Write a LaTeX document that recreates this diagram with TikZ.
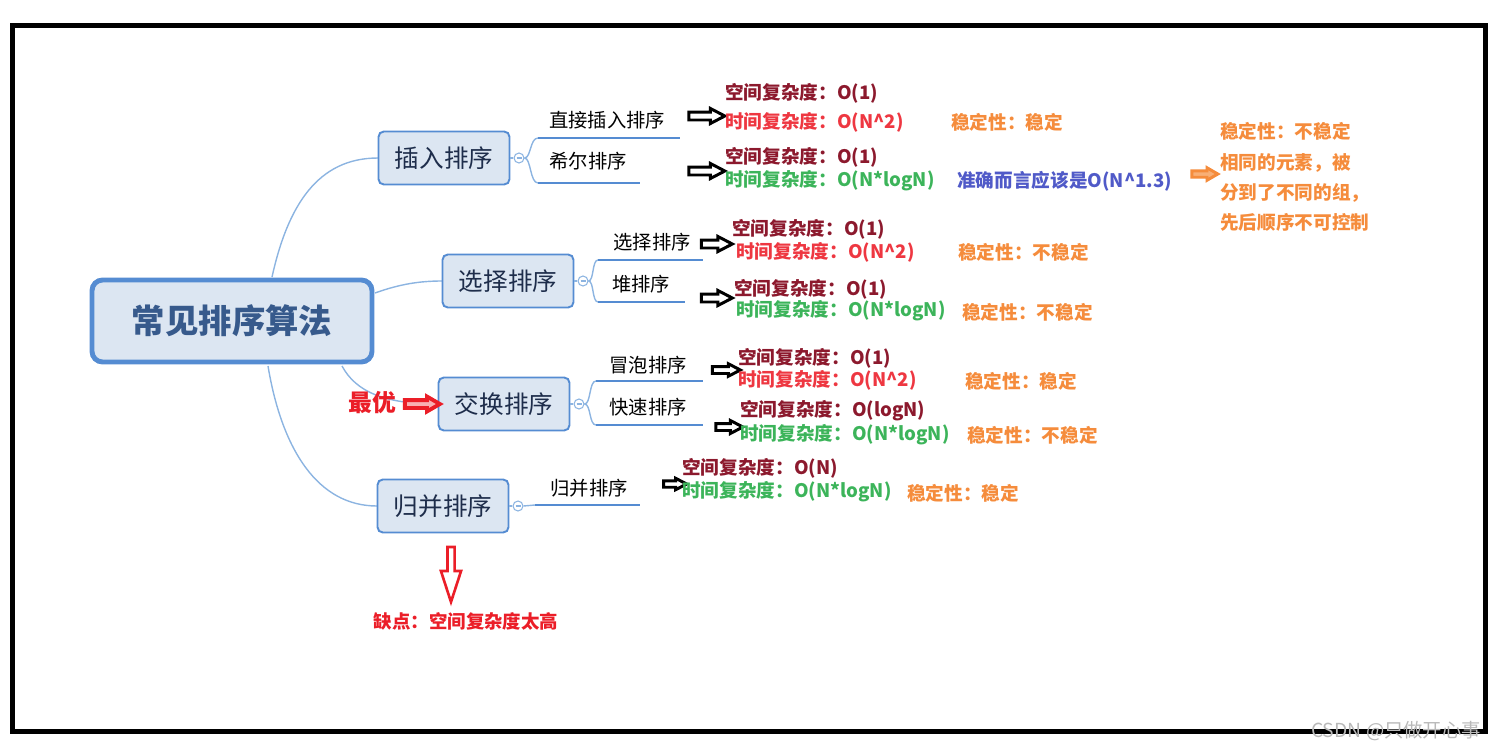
\documentclass[tikz,border=0pt]{standalone}
\usepackage{fontspec}
\setmainfont{Noto Sans CJK SC}
\usetikzlibrary{shapes.arrows}

\definecolor{boxline}{RGB}{85,140,210}
\definecolor{boxfill}{RGB}{220,230,242}
\definecolor{boxtext}{RGB}{30,45,75}
\definecolor{maintext}{RGB}{55,90,140}
\definecolor{branch}{RGB}{140,180,225}
\definecolor{spacered}{RGB}{140,25,45}
\definecolor{timered}{RGB}{238,55,65}
\definecolor{timegreen}{RGB}{60,180,90}
\definecolor{stableorange}{RGB}{245,140,60}
\definecolor{noteblue}{RGB}{80,90,200}
\definecolor{warnred}{RGB}{235,30,40}

\tikzset{
  mainbox/.style={draw=boxline, fill=boxfill, line width=2.8pt, rounded corners=6pt,
    minimum width=5.6cm, minimum height=1.64cm, text=maintext,
    font=\fontsize{19}{22}\selectfont\bfseries},
  catbox/.style={draw=boxline, fill=boxfill, line width=1.1pt, rounded corners=3pt,
    minimum width=2.62cm, minimum height=1.06cm, text=boxtext,
    font=\fontsize{14}{16}\selectfont},
  fold/.style={circle, draw=branch, fill=white, line width=0.6pt, minimum size=0.2cm, inner sep=0pt},
  subtxt/.style={inner sep=0pt, font=\fontsize{11}{13}\selectfont},
  info/.style={anchor=west, inner sep=0pt, font=\fontsize{10.6}{13}\selectfont\bfseries},
  branchline/.style={draw=branch, line width=0.8pt},
  subline/.style={draw=boxline, line width=1.6pt},
  hollow/.style={single arrow, draw=black, fill=white, line width=1.7pt, minimum height=0.72cm,
    inner xsep=0pt, inner ysep=0.05cm, single arrow head extend=0.07cm, single arrow tip angle=55},
}

\begin{document}
\begin{tikzpicture}[x=0.02cm, y=-0.02cm]
  \useasboundingbox (0,0) rectangle (1499,751);
  % outer frame
  \draw[line width=2.85pt] (12.5,25.5) rectangle (1485,731);

  % branches from the root
  \coordinate (rootup) at (272,277);
  \coordinate (rootright) at (375,293);
  \coordinate (rootdown) at (342,366);
  \coordinate (rootlow) at (268,366);
  \draw[branchline] (rootup) .. controls (288,205) and (318,158) .. (378,158);
  \draw[branchline] (rootright) .. controls (400,284) and (420,281) .. (442,281);
  \draw[branchline] (rootdown) .. controls (356,392) and (385,404) .. (438,404);
  \draw[branchline] (rootlow) .. controls (282,450) and (318,506) .. (377,506);

  % root and category boxes
  \node[mainbox] (root) at (232,321) {常见排序算法};
  \node[catbox] (insert) at (444,158) {插入排序};
  \node[catbox] (select) at (508,281) {选择排序};
  \node[catbox] (swap) at (504,404) {交换排序};
  \node[catbox] (merge) at (443,506) {归并排序};

  % fold circles
  \node[fold] (insertfold) at (519,158) {};
  \node[fold] (selectfold) at (583,281) {};
  \node[fold] (swapfold) at (579,404) {};
  \node[fold] (mergefold) at (518,506) {};
  \foreach \f in {insertfold,selectfold,swapfold,mergefold}
    \draw[branch, line width=0.6pt] ([xshift=-0.05cm]\f.center) -- ([xshift=0.05cm]\f.center);
  \draw[branchline] (insert.east) -- (insertfold.west);
  \draw[branchline] (select.east) -- (selectfold.west);
  \draw[branchline] (swap.east) -- (swapfold.west);
  \draw[branchline] (merge.east) -- (mergefold.west);

  % insertion sort children
  \coordinate (directL) at (538,138); \coordinate (directR) at (680,138);
  \coordinate (shellL) at (538,183); \coordinate (shellR) at (640,183);
  \draw[branchline] (insertfold.east) .. controls (531,158) and (530,138) .. (directL);
  \draw[branchline] (insertfold.east) .. controls (531,158) and (530,183) .. (shellL);
  \draw[subline] (directL) -- (directR);
  \draw[subline] (shellL) -- (shellR);
  \node[subtxt] (direct) at (607,120) {直接插入排序};
  \node[subtxt] (shell) at (588,161) {希尔排序};

  % selection sort children
  \coordinate (chooseL) at (598,260); \coordinate (chooseR) at (703,260);
  \coordinate (heapL) at (598,302); \coordinate (heapR) at (685,302);
  \draw[branchline] (selectfold.east) .. controls (594,281) and (592,260) .. (chooseL);
  \draw[branchline] (selectfold.east) .. controls (594,281) and (592,302) .. (heapL);
  \draw[subline] (chooseL) -- (chooseR);
  \draw[subline] (heapL) -- (heapR);
  \node[subtxt] (choose) at (652,242) {选择排序};
  \node[subtxt] (heap) at (641,284) {堆排序};

  % exchange sort children
  \coordinate (bubbleL) at (596,381); \coordinate (bubbleR) at (703,381);
  \coordinate (quickL) at (596,425); \coordinate (quickR) at (703,425);
  \draw[branchline] (swapfold.east) .. controls (591,404) and (589,381) .. (bubbleL);
  \draw[branchline] (swapfold.east) .. controls (591,404) and (589,425) .. (quickL);
  \draw[subline] (bubbleL) -- (bubbleR);
  \draw[subline] (quickL) -- (quickR);
  \node[subtxt] (bubble) at (648,365) {冒泡排序};
  \node[subtxt] (quick) at (648,407) {快速排序};

  % merge sort child
  \coordinate (mergesubL) at (535,505); \coordinate (mergesubR) at (640,505);
  \draw[branchline] (mergefold.east) -- (mergesubL);
  \draw[subline] (mergesubL) -- (mergesubR);
  \node[subtxt] (mergesub) at (589,488) {归并排序};

  % black arrows
  \node[hollow] (arrdirect) at (703,116) {};
  \node[hollow] (arrshell) at (703,171) {};
  \node[hollow, minimum height=0.62cm] (arrchoose) at (713,244) {};
  \node[hollow, minimum height=0.62cm] (arrheap) at (713,298) {};
  \node[hollow, minimum height=0.56cm, inner ysep=0.04cm, single arrow head extend=0.055cm] (arrbubble) at (723,370) {};
  \node[hollow, minimum height=0.54cm, inner ysep=0.04cm, single arrow head extend=0.06cm] (arrquick) at (726,427) {};
  \node[hollow, minimum height=0.46cm, inner ysep=0.035cm, single arrow head extend=0.05cm] (arrmerge) at (672,484) {};

  % insertion info
  \node[info, text=spacered] (directspace) at (725,93) {空间复杂度：O(1)};
  \node[info, text=timered] (directtime) at (725,122) {时间复杂度：O(N\textasciicircum2)};
  \node[info, text=stableorange] (directstable) at (951,122) {稳定性：稳定};
  \node[info, text=spacered] (shellspace) at (725,157) {空间复杂度：O(1)};
  \node[info, text=timegreen] (shelltime) at (725,181) {时间复杂度：O(N*logN)};
  \node[info, text=noteblue] (shellnote) at (957,181) {准确而言应该是O(N\textasciicircum1.3)};
  \node[single arrow, draw=stableorange, fill=stableorange!70, line width=1.7pt, minimum height=0.52cm,
    inner xsep=0pt, inner ysep=0.035cm, single arrow head extend=0.06cm, single arrow tip angle=60] (arrshellnote) at (1202,174) {};
  \node[info, text=stableorange, align=left, font=\fontsize{10.6}{17.2}\selectfont\bfseries] (shellstable) at (1220,177)
    {稳定性：不稳定\\相同的元素，被\\分到了不同的组，\\先后顺序不可控制};

  % selection info
  \node[info, text=spacered] (choosespace) at (732,229) {空间复杂度：O(1)};
  \node[info, text=timered] (choosetime) at (736,252) {时间复杂度：O(N\textasciicircum2)};
  \node[info, text=stableorange] (choosestable) at (958,252) {稳定性：不稳定};
  \node[info, text=spacered] (heapspace) at (734,289) {空间复杂度：O(1)};
  \node[info, text=timegreen] (heaptime) at (736,311) {时间复杂度：O(N*logN)};
  \node[info, text=stableorange] (heapstable) at (962,312) {稳定性：不稳定};

  % exchange info
  \node[info, text=spacered] (bubblespace) at (738,358) {空间复杂度：O(1)};
  \node[info, text=timered] (bubbletime) at (738,380) {时间复杂度：O(N\textasciicircum2)};
  \node[info, text=stableorange] (bubblestable) at (965,381) {稳定性：稳定};
  \node[info, text=spacered] (quickspace) at (740,411) {空间复杂度：O(logN)};
  \node[info, text=timegreen] (quicktime) at (740,435) {时间复杂度：O(N*logN)};
  \node[info, text=stableorange] (quickstable) at (967,435) {稳定性：不稳定};

  % merge info
  \node[info, text=spacered] (mergespace) at (682,468) {空间复杂度：O(N)};
  \node[info, text=timegreen] (mergetime) at (682,492) {时间复杂度：O(N*logN)};
  \node[info, text=stableorange] (mergestable) at (907,493) {稳定性：稳定};

  % red marks
  \node[inner sep=0pt, text=warnred, font=\fontsize{13.5}{16}\selectfont\bfseries] (best) at (372,403) {最优};
  \node[single arrow, draw=warnred, fill=warnred!35, line width=2.2pt, minimum height=0.7cm,
    inner xsep=0pt, inner ysep=0.04cm, single arrow head extend=0.07cm, single arrow tip angle=60] (arrbest) at (419,404) {};
  \node[single arrow, shape border rotate=270, draw=warnred, fill=white, line width=1.5pt,
    minimum height=1.1cm, inner xsep=0.045cm, inner ysep=0pt, single arrow head extend=0.13cm,
    single arrow tip angle=36] (arrweak) at (451,569) {};
  \node[inner sep=0pt, text=warnred, font=\fontsize{10.5}{13}\selectfont\bfseries] (weak) at (466,621) {缺点：空间复杂度太高};

  % watermark
  \node[inner sep=0pt, text=gray!55, font=\fontsize{11}{13}\selectfont] (mark) at (1396,731) {CSDN @只做开心事};
\end{tikzpicture}
\end{document}
